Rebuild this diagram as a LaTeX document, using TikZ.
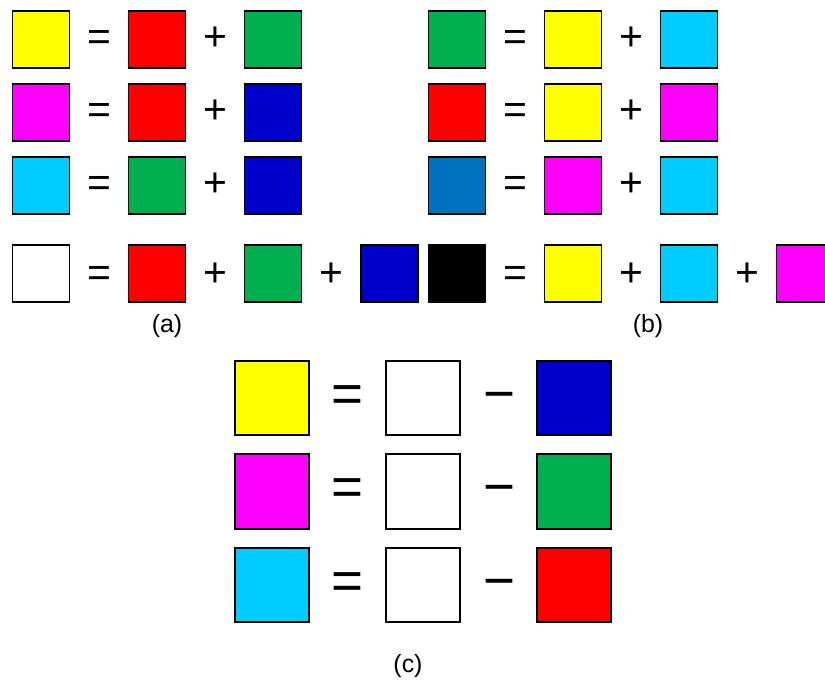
\documentclass[tikz,border=0pt]{standalone}
\usepackage{fontspec}
\setmainfont{Liberation Sans}
\usepackage{xcolor}
\usetikzlibrary{positioning}
\definecolor{jauneVif}{RGB}{255, 255, 0}
\definecolor{rougeVif}{RGB}{255, 0, 0}
\definecolor{vertVif}{RGB}{0, 176, 80}
\definecolor{bleuVif}{RGB}{0, 0, 204}
\definecolor{cyanVif}{RGB}{0, 204, 255}
\definecolor{magentaVif}{RGB}{255, 0, 255}
\definecolor{bleuMoyen}{RGB}{0, 112, 192}

\begin{document}
\begin{tikzpicture}[x=1bp, y=-1bp,
  sq/.style={rectangle, draw=black, line width=1.6bp,
    minimum size=57bp, inner sep=0pt},
  bigsq/.style={sq, minimum size=74.5bp},
  op/.style={inner sep=0pt, anchor=base, font=\fontsize{41}{41}\selectfont},
  bigop/.style={inner sep=0pt, anchor=base, font=\fontsize{55}{55}\selectfont},
  lbl/.style={inner sep=0pt, font=\fontsize{25}{25}\selectfont},
]
\useasboundingbox (0,0) rectangle (825,680);
% (a) additive
\node[sq, fill=jauneVif]   (aY)  at (41,   39.5) {};
\node[op]                  (aE1) at (99,   50.5) {=};
\node[sq, fill=rougeVif]   (aR1) at (157,  39.5) {};
\node[op]                  (aP1) at (215.5,50.5) {+};
\node[sq, fill=vertVif]    (aG1) at (273,  39.5) {};
\node[sq, fill=magentaVif] (aM)  at (41,   112.5) {};
\node[op]                  (aE2) at (99,   123.5) {=};
\node[sq, fill=rougeVif]   (aR2) at (157,  112.5) {};
\node[op]                  (aP2) at (215.5,123.5) {+};
\node[sq, fill=bleuVif]    (aB2) at (273,  112.5) {};
\node[sq, fill=cyanVif]    (aC)  at (41,   185.5) {};
\node[op]                  (aE3) at (99,   196.5) {=};
\node[sq, fill=vertVif]    (aG3) at (157,  185.5) {};
\node[op]                  (aP3) at (215.5,196.5) {+};
\node[sq, fill=bleuVif]    (aB3) at (273,  185.5) {};
\node[sq, fill=white]      (aW)  at (41,   273.5) {};
\node[op]                  (aE4) at (99,   286.5) {=};
\node[sq, fill=rougeVif]   (aR4) at (157,  273.5) {};
\node[op]                  (aP4) at (215.5,286.5) {+};
\node[sq, fill=vertVif]    (aG4) at (273,  273.5) {};
\node[op]                  (aP5) at (331,  286.5) {+};
\node[sq, fill=bleuVif]    (aB4) at (389.5,273.5) {};
\node[lbl] (labA) at (167, 326) {(a)};
% (b) subtractive
\node[sq, fill=vertVif]    (bG)  at (457,  39.5) {};
\node[op]                  (bE1) at (515,  50.5) {=};
\node[sq, fill=jauneVif]   (bY1) at (573,  39.5) {};
\node[op]                  (bP1) at (631,  50.5) {+};
\node[sq, fill=cyanVif]    (bC1) at (689,  39.5) {};
\node[sq, fill=rougeVif]   (bR)  at (457,  112.5) {};
\node[op]                  (bE2) at (515,  123.5) {=};
\node[sq, fill=jauneVif]   (bY2) at (573,  112.5) {};
\node[op]                  (bP2) at (631,  123.5) {+};
\node[sq, fill=magentaVif] (bM2) at (689,  112.5) {};
\node[sq, fill=bleuMoyen]  (bB)  at (457,  185.5) {};
\node[op]                  (bE3) at (515,  196.5) {=};
\node[sq, fill=magentaVif] (bM3) at (573,  185.5) {};
\node[op]                  (bP3) at (631,  196.5) {+};
\node[sq, fill=cyanVif]    (bC3) at (689,  185.5) {};
\node[sq, fill=black]      (bK)  at (457,  273.5) {};
\node[op]                  (bE4) at (515,  286.5) {=};
\node[sq, fill=jauneVif]   (bY4) at (573,  273.5) {};
\node[op]                  (bP4) at (631,  286.5) {+};
\node[sq, fill=cyanVif]    (bC4) at (689,  273.5) {};
\node[op]                  (bP5) at (747,  286.5) {+};
\node[sq, fill=magentaVif] (bM4) at (805,  273.5) {};
\node[lbl] (labB) at (648, 326) {(b)};
% (c) white minus primary
\node[bigsq, fill=jauneVif]   (cY)  at (272, 398) {};
\node[bigop]                  (cE1) at (347.5, 412) {=};
\node[bigsq, fill=white]      (cW1) at (423, 398) {};
\node[bigop]                  (cS1) at (499, 412) {−};
\node[bigsq, fill=bleuVif]    (cB)  at (574, 398) {};
\node[bigsq, fill=magentaVif] (cM)  at (272, 491.5) {};
\node[bigop]                  (cE2) at (347.5, 505.5) {=};
\node[bigsq, fill=white]      (cW2) at (423, 491.5) {};
\node[bigop]                  (cS2) at (499, 505.5) {−};
\node[bigsq, fill=vertVif]    (cG)  at (574, 491.5) {};
\node[bigsq, fill=cyanVif]    (cC)  at (272, 585) {};
\node[bigop]                  (cE3) at (347.5, 599.5) {=};
\node[bigsq, fill=white]      (cW3) at (423, 585) {};
\node[bigop]                  (cS3) at (499, 599.5) {−};
\node[bigsq, fill=rougeVif]   (cR)  at (574, 585) {};
\node[lbl] (labC) at (408, 666) {(c)};
\end{tikzpicture}
\end{document}
